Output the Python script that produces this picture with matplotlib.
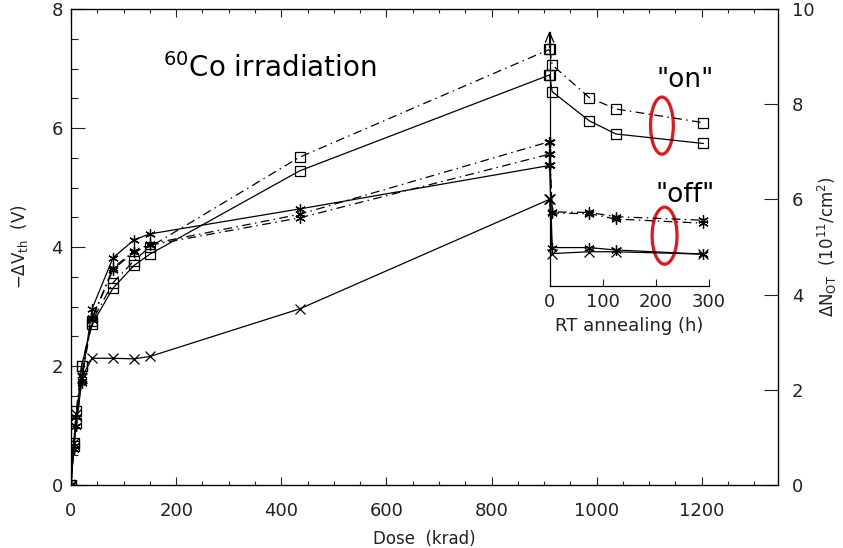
import matplotlib
matplotlib.use('Agg')
import matplotlib.pyplot as plt
from matplotlib.patches import Ellipse
from matplotlib.ticker import MultipleLocator

plt.rcParams['font.family'] = ['DejaVu Sans']
plt.rcParams['mathtext.default'] = 'regular'

# irradiation dose (krad)
dose = [0, 5, 10, 20, 40, 80, 120, 150, 435, 910]
# -dVth (V) during irradiation
on_dd  = [0, 0.70, 1.25, 2.00, 2.75, 3.40, 3.77, 4.00, 5.51, 7.32]   # squares, dash-dot
on_sol = [0, 0.65, 1.05, 2.00, 2.70, 3.31, 3.69, 3.88, 5.28, 6.89]   # squares, solid
off_dd1 = [0, 0.65, 1.15, 1.85, 2.80, 3.65, 3.93, 4.05, 4.55, 5.77]  # asterisk, dash-dot
off_dd2 = [0, 0.60, 1.00, 1.75, 2.78, 3.62, 3.92, 4.03, 4.49, 5.56]  # asterisk, dash-dot
off_sol = [0, 0.60, 1.00, 1.72, 2.96, 3.82, 4.12, 4.22, 4.64, 5.37]  # asterisk, solid
x_sol  = [0, 0.70, 1.20, 1.80, 2.13, 2.13, 2.12, 2.16, 2.96, 4.80]   # crosses, solid

# RT annealing (h), first point = end of irradiation
hours = [0, 5, 75, 125, 290]
an_on_dd   = [7.32, 7.06, 6.51, 6.32, 6.09]
an_on_sol  = [6.89, 6.61, 6.12, 5.90, 5.74]
an_off_dd1 = [5.77, 4.59, 4.58, 4.51, 4.45]
an_off_dd2 = [5.56, 4.57, 4.56, 4.47, 4.40]
an_off_sol = [5.37, 3.99, 3.99, 3.95, 3.88]
an_x_sol   = [4.80, 3.89, 3.92, 3.92, 3.88]

dashdot = (0, (7, 3.5, 1.2, 3.5))
ast = (6, 2, 0)
styles = [('s', dashdot), ('s', '-'), (ast, dashdot), (ast, dashdot), (ast, '-'), ('x', '-')]
irr = [on_dd, on_sol, off_dd1, off_dd2, off_sol, x_sol]
ann = [an_on_dd, an_on_sol, an_off_dd1, an_off_dd2, an_off_sol, an_x_sol]

fig = plt.figure(figsize=(8.43, 5.48), dpi=100)
rect = [71/843, 63/548, 707/843, 476/548]
ax = fig.add_axes(rect)
ax.set_xlim(0, 1345)
ax.set_ylim(0, 8)

for (m, ls), y in zip(styles, irr):
    ax.plot(dose, y, color='k', lw=0.9, ls=ls, marker=m, ms=7 if m == 's' else 7.5,
            mfc='none', mec='k', mew=0.9)

ax.xaxis.set_major_locator(MultipleLocator(200))
ax.xaxis.set_minor_locator(MultipleLocator(50))
ax.yaxis.set_major_locator(MultipleLocator(2))
ax.yaxis.set_minor_locator(MultipleLocator(0.5))
ax.tick_params(axis='x', which='both', direction='in', top=True, labelsize=13, pad=12, colors='#222')
ax.tick_params(axis='x', which='major', length=6, width=0.8)
ax.tick_params(axis='x', which='minor', length=3, width=0.8)
ax.tick_params(axis='y', which='both', direction='in', right=False, labelsize=13, pad=6, colors='#222')
ax.tick_params(axis='y', which='major', length=10, width=0.8)
ax.tick_params(axis='y', which='minor', length=5, width=0.8)
for s in ax.spines.values():
    s.set_linewidth(0.9)
ax.set_xlabel('Dose  (krad)', fontsize=12, color='#222')
ax.xaxis.set_label_coords(0.50, -0.095)
ax.set_ylabel('$-\\Delta V_{th}$  (V)', fontsize=12, color='#222')
ax.yaxis.set_label_coords(-0.058, 0.5)

ax2 = ax.twinx()
ax2.set_ylim(0, 10)
ax2.yaxis.set_major_locator(MultipleLocator(2))
ax2.tick_params(axis='y', direction='in', length=10, width=0.8, labelsize=13, pad=10, colors='#222')
ax2.set_ylabel('$\\Delta N_{OT}$  ($10^{11}$/cm$^{2}$)', fontsize=12, color='#222')
ax2.yaxis.set_label_coords(1.054, 0.5)

# annealing inset sharing the vertical scale
axa = fig.add_axes(rect)
axa.patch.set_visible(False)
axa.set_xlim(-903, 431)
axa.set_ylim(0, 8)
for (m, ls), y in zip(styles, ann):
    axa.plot(hours, y, color='k', lw=0.9, ls=ls, marker=m, ms=7 if m == 's' else 7.5,
             mfc='none', mec='k', mew=0.9)
ybase = 3.35
axa.spines['top'].set_visible(False)
axa.spines['right'].set_visible(False)
axa.spines['left'].set_position(('data', 0))
axa.spines['left'].set_bounds(ybase, 7.62)
axa.spines['bottom'].set_position(('data', ybase))
axa.spines['bottom'].set_bounds(0, 300)
for s in ('left', 'bottom'):
    axa.spines[s].set_linewidth(0.9)
axa.set_yticks([])
axa.set_xticks([0, 100, 200, 300])
axa.tick_params(axis='x', direction='in', length=5, width=0.8, labelsize=13, pad=5, colors='#222')
axa.annotate('', xy=(0, 7.68), xytext=(0, 7.3),
             arrowprops=dict(arrowstyle='->,head_length=0.7,head_width=0.3', lw=0.9, color='k'))
axa.text(150, ybase - 0.67, 'RT annealing (h)', ha='center', va='center', fontsize=13, color='#222')

ax.text(378, 7.0, '$^{60}$Co irradiation', ha='center', va='center', fontsize=20)
axa.text(255, 6.8, '"on"', ha='center', va='center', fontsize=19)
axa.text(255, 4.87, '"off"', ha='center', va='center', fontsize=19)
axa.add_patch(Ellipse((212, 6.04), 43, 0.96, fill=False, ec='#e8141a', lw=2.3))
axa.add_patch(Ellipse((217, 4.19), 47, 0.96, fill=False, ec='#e8141a', lw=2.3))

fig.savefig('out.png', dpi=100)
